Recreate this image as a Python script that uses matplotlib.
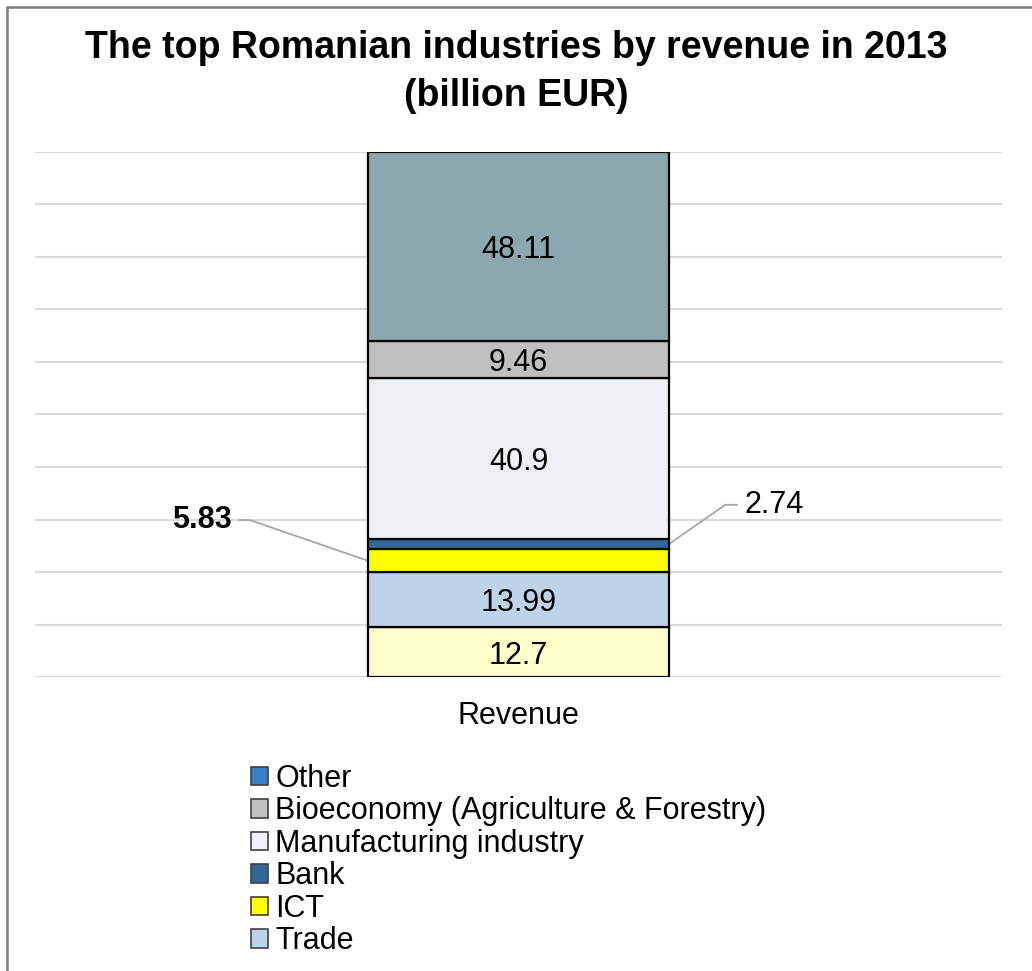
import matplotlib

matplotlib.use("Agg")
import matplotlib.pyplot as plt
from matplotlib.patches import Patch, Rectangle

plt.rcParams["font.family"] = ["Liberation Sans", "DejaVu Sans"]

# segments from bottom to top (billion EUR)
segments = ["Unlisted", "Trade", "ICT", "Bank", "Manufacturing industry",
            "Bioeconomy (Agriculture & Forestry)", "Other"]
values = [12.7, 13.99, 5.83, 2.74, 40.9, 9.46, 48.11]
bar_colors = ["#FFFFCC", "#BDD3EA", "#FFFF00", "#336699", "#EDF0F5",
              "#BFBFBF", "#8BA8AE"]
inside_label = [True, True, False, False, True, True, True]

legend_names = ["Other", "Bioeconomy (Agriculture & Forestry)",
                "Manufacturing industry", "Bank", "ICT", "Trade"]
legend_colors = ["#3A7DC2", "#BFBFBF", "#EDF0F5", "#336699", "#FFFF00",
                 "#BDD3EA"]

category = "Revenue"
title = "The top Romanian industries by revenue in 2013\n(billion EUR)"

W, H = 1032, 971
fig = plt.figure(figsize=(W / 100, H / 100), dpi=100)

# outer chart frame
fig.patches.append(Rectangle((7 / W, -0.1), 1.2, 1 - 7 / H + 0.1,
                             transform=fig.transFigure, fill=False,
                             edgecolor="#7f7f7f", lw=1.8))

ax = fig.add_axes([35 / W, 1 - 677 / H, 967 / W, 525 / H])
total = sum(values)
pct = [v / total * 100 for v in values]
bw = 301 / 967
bottom = 0
mids = []
for p, c in zip(pct, bar_colors):
    ax.bar(0, p, bw, bottom=bottom, color=c, edgecolor="black", lw=1.6,
           zorder=3)
    mids.append(bottom + p / 2)
    bottom += p

for v, m, show in zip(values, mids, inside_label):
    if show:
        ax.text(0, m, f"{v:g}", ha="center", va="center_baseline",
                fontsize=22, zorder=4)

ax.set_xlim(-0.5, 0.5)
ax.set_ylim(0, 100)
ax.set_yticks(range(0, 101, 10))
ax.yaxis.grid(True, color="#d9d9d9", lw=1.5, zorder=0)
ax.tick_params(left=False, labelleft=False, bottom=False)
ax.set_xticks([0])
ax.set_xticklabels([category], fontsize=22)
ax.tick_params(axis="x", pad=14)
for s in ax.spines.values():
    s.set_visible(False)

# callouts for ICT (left) and Bank (right)
i_ict, i_bank = segments.index("ICT"), segments.index("Bank")
ex_l, ex_r = -bw / 2, bw / 2
ax.plot([ex_l, -0.278, -0.289], [mids[i_ict], 29.9, 29.9],
        color="#a6a6a6", lw=1.3, zorder=2, clip_on=False)
ax.text(-0.296, 29.9, f"{values[i_ict]:g}", ha="right", va="center",
        fontsize=22, fontweight="bold")
ax.plot([ex_r, 0.214, 0.226], [mids[i_bank], 32.8, 32.8],
        color="#a6a6a6", lw=1.3, zorder=2, clip_on=False)
ax.text(0.234, 32.8, f"{values[i_bank]:g}", ha="left", va="center",
        fontsize=22)

fig.text(0.5, 1 - 72 / H, title, ha="center", va="center", fontsize=27,
         fontweight="bold", linespacing=1.45)

handles = [Patch(facecolor=c, edgecolor="#404040", lw=1.2)
           for c in legend_colors]
fig.legend(handles, legend_names, loc="upper left",
           bbox_to_anchor=(251 / W, 1 - 764 / H), frameon=False,
           fontsize=22, handlelength=0.55, handleheight=0.55,
           handletextpad=0.25, labelspacing=0.08, borderaxespad=0,
           borderpad=0)

fig.savefig("out.png", dpi=100)
